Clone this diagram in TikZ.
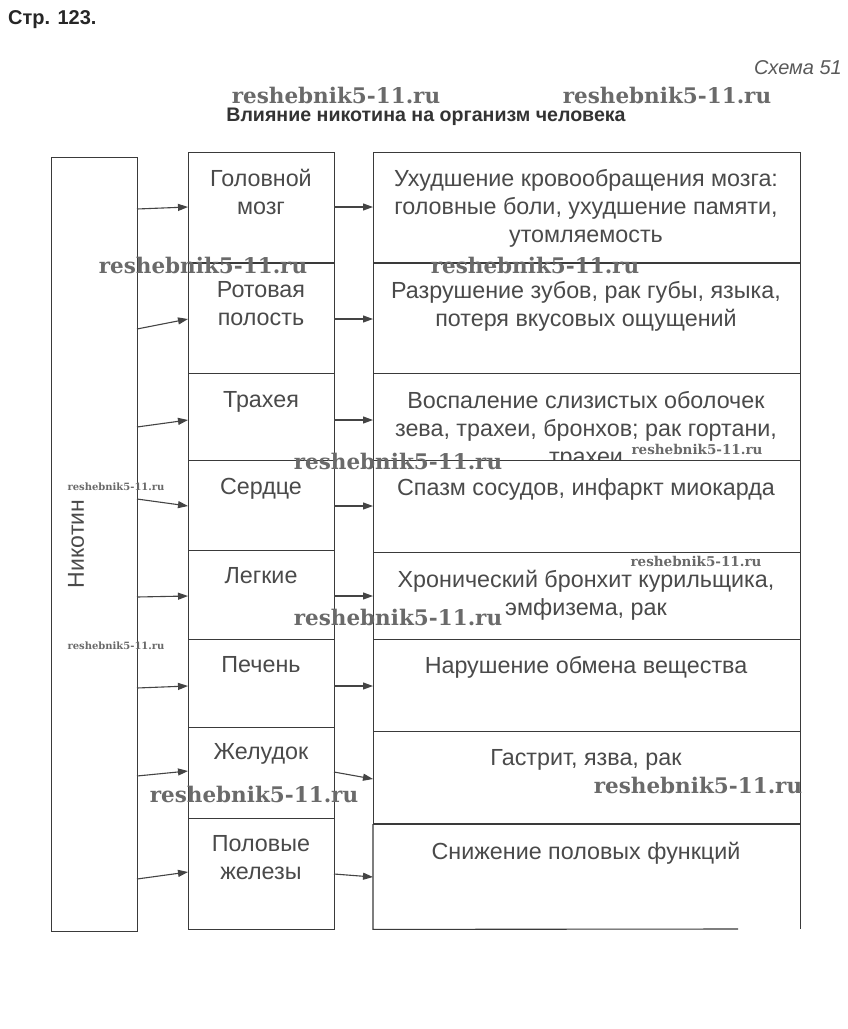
\documentclass[tikz,border=0pt]{standalone}
\usepackage{fontspec}
\setmainfont{Liberation Sans}
\newfontfamily\wmfam{DejaVu Serif}
\usetikzlibrary{arrows.meta}
\definecolor{linec}{HTML}{3A3A3A}
\definecolor{txt}{HTML}{4A4A4A}
\definecolor{arrc}{HTML}{444444}
\definecolor{wmc}{HTML}{6A6A6A}
\begin{document}
\begin{tikzpicture}[x=1pt,y=-1pt,
  frame/.style={draw=linec, line width=1.1pt, inner sep=0pt, anchor=north west, fill=white},
  lbl/.style={font=\fontsize{23.3}{28}\selectfont, text=txt, align=center, inner sep=0pt, anchor=north},
  arr/.style={draw=arrc, line width=1.1pt, -{Triangle[length=10pt,width=7pt]}},
  wmbig/.style={font=\wmfam\bfseries\fontsize{21.5}{21}\selectfont, text=wmc, inner sep=0pt},
  wmsmall/.style={font=\wmfam\bfseries\fontsize{13.5}{13}\selectfont, text=wmc, inner sep=0pt},
  wmtiny/.style={font=\wmfam\bfseries\fontsize{10}{10}\selectfont, text=wmc, inner sep=0pt}]
\fill[white] (0,0) rectangle (847,1029);
\useasboundingbox (0,0) rectangle (847,1029);

% header
\node[anchor=west, inner sep=0pt, font=\bfseries\fontsize{20}{20}\selectfont, text=black!85] (page) at (8,20) {Стр. 123.};
\node[anchor=east, inner sep=0pt, font=\itshape\fontsize{20}{20}\selectfont, text=black!65] (schema) at (842,68) {Схема 51};
\node[inner sep=0pt, font=\bfseries\fontsize{19.6}{19}\selectfont, text=black!80] (title) at (426,117) {Влияние никотина на организм человека};

% left box
\node[frame, minimum width=86pt, minimum height=774pt] (nik) at (51,157) {};
\node[font=\fontsize{23}{28}\selectfont, text=txt, rotate=90, inner sep=0pt] (nikt) at (76,544) {Никотин};

% middle column
\node[frame, minimum width=146pt, minimum height=111pt] (m1) at (188,152) {};
\node[frame, minimum width=146pt, minimum height=110pt] (m2) at (188,263) {};
\node[frame, minimum width=146pt, minimum height=87pt]  (m3) at (188,373) {};
\node[frame, minimum width=146pt, minimum height=90pt]  (m4) at (188,460) {};
\node[frame, minimum width=146pt, minimum height=89pt]  (m5) at (188,550) {};
\node[frame, minimum width=146pt, minimum height=88pt]  (m6) at (188,639) {};
\node[frame, minimum width=146pt, minimum height=91pt]  (m7) at (188,727) {};
\node[frame, minimum width=146pt, minimum height=111pt] (m8) at (188,818) {};
\node[lbl] (ml1) at (261,169) {Головной\\мозг};
\node[lbl] (ml2) at (261,281) {Ротовая\\полость};
\node[lbl] (ml3) at (261,391) {Трахея};
\node[lbl] (ml4) at (261,478) {Сердце};
\node[lbl] (ml5) at (261,567) {Легкие};
\node[lbl] (ml6) at (261,656) {Печень};
\node[lbl] (ml7) at (261,743) {Желудок};
\node[lbl] (ml8) at (261,835) {Половые\\железы};

% right column
\node[frame, minimum width=427pt, minimum height=111pt] (r1) at (373,152) {};
\node[lbl] (rl1) at (586,169) {Ухудшение кровообращения мозга:\\головные боли, ухудшение памяти,\\утомляемость};
\node[frame, minimum width=427pt, minimum height=110pt] (r2) at (373,263) {};
\draw[draw=linec, line width=1.8pt] (r2.north west) -- (r2.north east);
\draw[draw=linec, line width=1.8pt] (m2.north west) -- (m2.north east);
\node[lbl] (rl2) at (586,281) {Разрушение зубов, рак губы, языка,\\потеря вкусовых ощущений};
\node[frame, minimum width=427pt, minimum height=87pt] (r3) at (373,373) {};
\node[lbl] (rl3) at (586,391) {Воспаление слизистых оболочек\\зева, трахеи, бронхов; рак гортани,\\трахеи};
\node[frame, minimum width=427pt, minimum height=92pt] (r4) at (373,460) {};
\node[lbl] (rl4) at (586,478) {Спазм сосудов, инфаркт миокарда};
\node[frame, minimum width=427pt, minimum height=87pt] (r5) at (373,552) {};
\node[lbl] (rl5) at (586,570) {Хронический бронхит курильщика,\\эмфизема, рак};
\node[frame, minimum width=427pt, minimum height=92pt] (r6) at (373,639) {};
\node[lbl] (rl6) at (586,656) {Нарушение обмена вещества};
\node[frame, minimum width=427pt, minimum height=93pt] (r7) at (373,731) {};
\node[lbl] (rl7) at (586,749) {Гастрит, язва, рак};
\node[inner sep=0pt, minimum width=427pt, minimum height=105pt, anchor=north west] (r8) at (373,824) {};
\coordinate (r8cut) at (738,929);
\draw[draw=linec, line width=1.1pt] (r8cut) -- (r8.south west) -- (r8.north west);
\draw[draw=linec, line width=1.1pt] (r8.north east) -- (r8.south east);
\draw[draw=linec, line width=2.2pt] (r8.north west) -- (r8.north east);
\node[lbl] (rl8) at (586,842) {Снижение половых функций};

% arrows left
\coordinate (a1s) at (137,209); \coordinate (a1e) at (188,207);
\coordinate (a2s) at (137,329); \coordinate (a2e) at (188,319);
\coordinate (a3s) at (137,427); \coordinate (a3e) at (188,420);
\coordinate (a4s) at (137,499); \coordinate (a4e) at (188,506);
\coordinate (a5s) at (137,597); \coordinate (a5e) at (188,596);
\coordinate (a6s) at (137,688); \coordinate (a6e) at (188,686);
\coordinate (a7s) at (137,776); \coordinate (a7e) at (188,771);
\coordinate (a8s) at (137,879); \coordinate (a8e) at (188,872);
\foreach \i in {1,...,8} { \draw[arr] (a\i s) -- (a\i e); }

% arrows right
\coordinate (b1s) at (334,207); \coordinate (b1e) at (373,207);
\coordinate (b2s) at (334,319); \coordinate (b2e) at (373,319);
\coordinate (b3s) at (334,420); \coordinate (b3e) at (373,420);
\coordinate (b4s) at (334,506); \coordinate (b4e) at (373,506);
\coordinate (b5s) at (334,596); \coordinate (b5e) at (373,596);
\coordinate (b6s) at (334,686); \coordinate (b6e) at (373,686);
\coordinate (b7s) at (334,772); \coordinate (b7e) at (373,779);
\coordinate (b8s) at (334,874); \coordinate (b8e) at (373,877);
\foreach \i in {1,...,8} { \draw[arr] (b\i s) -- (b\i e); }

% watermarks
\node[wmbig] (w1) at (336,95) {reshebnik5-11.ru};
\node[wmbig] (w2) at (667,95) {reshebnik5-11.ru};
\node[wmbig] (w3) at (203,265) {reshebnik5-11.ru};
\node[wmbig] (w4) at (535,265) {reshebnik5-11.ru};
\node[wmbig] (w5) at (398,461) {reshebnik5-11.ru};
\node[wmsmall] (w6) at (697,449) {reshebnik5-11.ru};
\node[wmtiny] (w7) at (116,487) {reshebnik5-11.ru};
\node[wmsmall] (w8) at (696,561) {reshebnik5-11.ru};
\node[wmbig] (w9) at (398,617) {reshebnik5-11.ru};
\node[wmtiny] (w10) at (116,646) {reshebnik5-11.ru};
\node[wmbig] (w11) at (254,794) {reshebnik5-11.ru};
\node[wmbig] (w12) at (698,785) {reshebnik5-11.ru};
\end{tikzpicture}
\end{document}
